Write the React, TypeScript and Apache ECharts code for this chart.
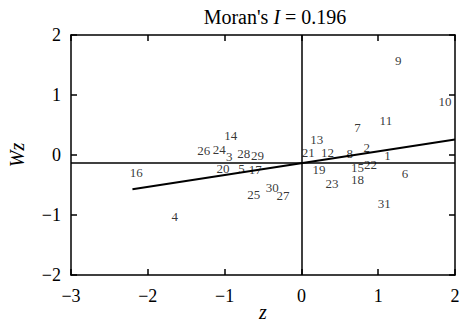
import React, { useEffect, useRef } from "react";
import * as echarts from "echarts";

const ids = [1,2,3,4,5,6,7,8,9,10,11,12,13,14,15,16,17,18,19,20,21,22,23,24,25,26,27,28,29,30,31];
const zVals = [1.12,0.85,-0.94,-1.65,-0.78,1.35,0.73,0.63,1.26,1.87,1.10,0.34,0.20,-0.92,0.73,-2.15,-0.60,0.73,0.23,-1.02,0.09,0.90,0.40,-1.07,-0.62,-1.27,-0.24,-0.75,-0.57,-0.38,1.08];
const wzVals = [-0.01,0.13,-0.02,-1.03,-0.22,-0.31,0.46,0.02,1.58,0.89,0.58,0.05,0.26,0.32,-0.21,-0.29,-0.24,-0.41,-0.24,-0.22,0.05,-0.15,-0.48,0.10,-0.66,0.08,-0.68,0.02,-0.01,-0.54,-0.81];
const regLine = [[-2.2, -0.57], [2, 0.26]];
const meanWz = -0.13;
const xTicks = [-3, -2, -1, 0, 1, 2];
const yTicks = [-2, -1, 0, 1, 2];

const font = "Liberation Serif";

export default function App() {
  const ref = useRef<HTMLDivElement>(null);
  useEffect(() => {
    document.body.style.margin = "0";
    const chart = echarts.init(ref.current!, null, { renderer: "svg" });
    const fmt = (v: number) => String(v).replace("-", "\u2212");
    const axisCommon = {
      axisLine: { show: true, onZero: false, lineStyle: { color: "#000", width: 1.5 } },
      axisTick: { show: true, inside: true, length: 6, lineStyle: { color: "#000", width: 1.5 } },
      splitLine: { show: false },
    };
    chart.setOption({
      animation: false,
      backgroundColor: "#fff",
      title: {
        text: "Moran's {i|I} = 0.196",
        left: 270,
        textAlign: "center",
        top: 2,
        textStyle: {
          fontFamily: font, fontSize: 20, fontWeight: "normal", color: "#000",
          rich: { i: { fontFamily: font, fontSize: 20, fontStyle: "italic", color: "#000" } },
        },
      },
      grid: { left: 71, right: 10, top: 35, bottom: 47, outerBoundsMode: "none", containLabel: false },
      xAxis: [
        {
          type: "value", min: xTicks[0], max: xTicks[xTicks.length - 1], interval: 1,
          position: "bottom",
          name: "z", nameLocation: "middle", nameGap: 27, nameMoveOverlap: false,
          nameTextStyle: { fontFamily: font, fontSize: 20, fontStyle: "italic", color: "#000" },
          axisLabel: { fontFamily: font, fontSize: 18, color: "#000", margin: 12, formatter: fmt },
          ...axisCommon,
        },
        {
          type: "value", min: xTicks[0], max: xTicks[xTicks.length - 1], interval: 1,
          position: "top", axisLabel: { show: false },
          ...axisCommon,
        },
      ],
      yAxis: [
        {
          type: "value", min: yTicks[0], max: yTicks[yTicks.length - 1], interval: 1,
          position: "left",
          name: "Wz", nameLocation: "middle", nameGap: 44,
          nameTextStyle: { fontFamily: font, fontSize: 20, fontStyle: "italic", color: "#000" },
          axisLabel: { fontFamily: font, fontSize: 18, color: "#000", margin: 10, formatter: fmt },
          ...axisCommon,
        },
        {
          type: "value", min: yTicks[0], max: yTicks[yTicks.length - 1], interval: 1,
          position: "right", axisLabel: { show: false },
          ...axisCommon,
        },
      ],
      series: [
        {
          type: "scatter",
          data: ids.map((id, i) => ({ value: [zVals[i], wzVals[i]], name: String(id) })),
          symbolSize: 1,
          itemStyle: { color: "rgba(0,0,0,0)" },
          label: {
            show: true, position: [0.5, 0.5], align: "center", verticalAlign: "middle",
            formatter: "{b}",
            fontFamily: font, fontSize: 13, color: "#000",
          },
          labelLayout: { hideOverlap: false },
          silent: true,
          z: 5,
        },
        {
          type: "line",
          data: regLine,
          symbol: "none",
          lineStyle: { color: "#000", width: 2 },
          silent: true,
          markLine: {
            silent: true,
            symbol: "none",
            label: { show: false },
            lineStyle: { color: "#000", width: 1.5, type: "solid" },
            data: [{ xAxis: 0 }, { yAxis: meanWz }],
          },
        },
      ],
    });
    return () => chart.dispose();
  }, []);
  return <div ref={ref} style={{ width: 465, height: 322 }} />;
}
